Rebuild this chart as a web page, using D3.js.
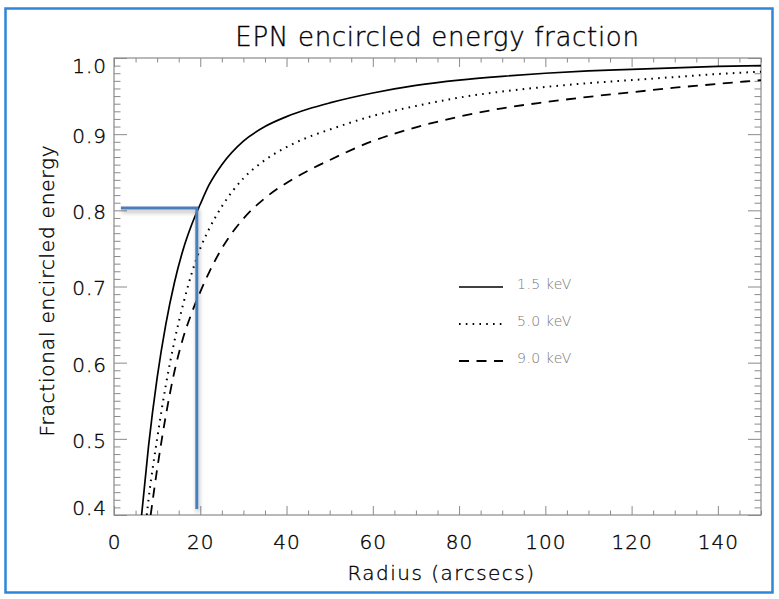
<!DOCTYPE html>
<html><head><meta charset="utf-8">
<script src="https://cdn.jsdelivr.net/npm/d3@7"></script>
<style>body{margin:0;background:#fff}</style>
</head><body>
<svg id="chart" width="779" height="599"></svg>
<script>
// ---- data ----
const radius15 = [6.4, 8, 10, 12, 14, 16, 18, 20, 22, 25, 30, 35, 40, 45, 50, 60, 70, 80, 90, 100, 110, 120, 130, 140, 150];
const ee15     = [0.400, 0.490, 0.580, 0.650, 0.705, 0.748, 0.781, 0.808, 0.833, 0.860, 0.891, 0.910, 0.923, 0.933, 0.941, 0.954, 0.964, 0.971, 0.976, 0.980, 0.983, 0.985, 0.987, 0.989, 0.990];
const radius50 = [7.6, 8, 10, 12, 14, 16, 18, 20, 22, 25, 30, 35, 40, 45, 50, 60, 70, 80, 90, 100, 110, 120, 130, 140, 150];
const ee50     = [0.400, 0.420, 0.500, 0.570, 0.628, 0.676, 0.717, 0.750, 0.775, 0.805, 0.842, 0.866, 0.883, 0.896, 0.906, 0.924, 0.937, 0.948, 0.956, 0.962, 0.967, 0.971, 0.975, 0.979, 0.982];
const radius90 = [8.5, 10, 12, 14, 16, 18, 20, 22, 25, 30, 35, 40, 45, 50, 60, 70, 80, 90, 100, 110, 120, 130, 140, 150];
const ee90     = [0.400, 0.460, 0.530, 0.588, 0.632, 0.665, 0.693, 0.718, 0.750, 0.789, 0.816, 0.836, 0.852, 0.866, 0.891, 0.909, 0.923, 0.934, 0.942, 0.949, 0.955, 0.961, 0.966, 0.971];
const legendLabels = ["1.5 keV", "5.0 keV", "9.0 keV"];
const xMajorTicks = [0, 20, 40, 60, 80, 100, 120, 140];
const yMajorTicks = [0.4, 0.5, 0.6, 0.7, 0.8, 0.9, 1.0];
const xMinorStep = 5;
const yMinorStep = 0.01;
// marker (blue guide lines): 80% level at r ~ 19.2"
const markerR = [1.6, 19.2];
const markerEE = [0.408, 0.803];
const titleText = "EPN encircled energy fraction";
const xTitle = "Radius (arcsecs)";
const yTitle = "Fractional encircled energy";

// ---- layout ----
const svg = d3.select("#chart");
const m = {left: 114, right: 761, top: 58, bottom: 515};
const x = d3.scaleLinear().domain([0, 150]).range([m.left, m.right]);
const y = d3.scaleLinear().domain([0.4, 1.0]).range([m.bottom, m.top]);
const font = "'DejaVu Sans', sans-serif";
const axisColor = "#8a8a8a";
const textColor = "#000";

function textStyle(sel, size, ls) {
  sel.attr("font-family", font).attr("font-size", size).attr("font-weight", 200)
    .attr("letter-spacing", ls).attr("fill", textColor)
    .attr("stroke", textColor).attr("stroke-width", 0.35);
}

// outer frame
svg.append("rect").attr("x", 5.5).attr("y", 8.5).attr("width", 767).attr("height", 584)
  .attr("fill", "none").attr("stroke", "#2e86d9").attr("stroke-width", 2.5);

// drop-shadow for marker
const defs = svg.append("defs");
const f = defs.append("filter").attr("id", "shadow").attr("x", "-20%").attr("y", "-50%").attr("width", "140%").attr("height", "200%");
f.append("feDropShadow").attr("dx", 1).attr("dy", 3).attr("stdDeviation", 2).attr("flood-color", "#000").attr("flood-opacity", 0.3);
defs.append("clipPath").attr("id", "clip").append("rect")
  .attr("x", m.left).attr("y", m.top).attr("width", m.right - m.left).attr("height", m.bottom - m.top);

// title
svg.append("text").attr("x", (m.left + m.right) / 2).attr("y", 46)
  .attr("text-anchor", "middle").call(textStyle, 26, 0.7).text(titleText);

function clean(g) {
  g.select(".domain").remove();
  g.selectAll("line").attr("stroke", axisColor).attr("stroke-width", 1);
}
const xMinor = d3.range(0, 150.001, xMinorStep).filter(v => v % 20 !== 0);
const yMinor = d3.range(40, 100.001, yMinorStep * 100).filter(v => Math.round(v) % 10 !== 0).map(v => v / 100);

// bottom axis
const gb = svg.append("g").attr("transform", `translate(0,${m.bottom})`)
  .call(d3.axisBottom(x).tickValues(xMajorTicks).tickSize(-9).tickPadding(20).tickFormat(d3.format("d")));
clean(gb);
gb.selectAll("text").call(textStyle, 20, 1);
svg.append("g").attr("transform", `translate(0,${m.bottom})`)
  .call(d3.axisBottom(x).tickValues(xMinor).tickSize(-4.5).tickFormat("")).call(clean);
// top axis
svg.append("g").attr("transform", `translate(0,${m.top})`)
  .call(d3.axisTop(x).tickValues(xMajorTicks).tickSize(-9).tickFormat("")).call(clean);
svg.append("g").attr("transform", `translate(0,${m.top})`)
  .call(d3.axisTop(x).tickValues(xMinor).tickSize(-4.5).tickFormat("")).call(clean);

// left axis
const gl = svg.append("g").attr("transform", `translate(${m.left},0)`)
  .call(d3.axisLeft(y).tickValues(yMajorTicks).tickSize(-13).tickPadding(7).tickFormat(d3.format(".1f")));
clean(gl);
gl.selectAll("text").call(textStyle, 20, 1)
  .attr("transform", d => `translate(0,${d >= 0.999 ? 8 : d <= 0.401 ? -7 : 2})`);
svg.append("g").attr("transform", `translate(${m.left},0)`)
  .call(d3.axisLeft(y).tickValues(yMinor).tickSize(-6.5).tickFormat("")).call(clean);
// right axis
svg.append("g").attr("transform", `translate(${m.right},0)`)
  .call(d3.axisRight(y).tickValues(yMajorTicks).tickSize(-13).tickFormat("")).call(clean);
svg.append("g").attr("transform", `translate(${m.right},0)`)
  .call(d3.axisRight(y).tickValues(yMinor).tickSize(-6.5).tickFormat("")).call(clean);

// plot frame
svg.append("rect").attr("x", m.left).attr("y", m.top).attr("width", m.right - m.left).attr("height", m.bottom - m.top)
  .attr("fill", "none").attr("stroke", axisColor).attr("stroke-width", 1.2);

// axis titles
svg.append("text").attr("x", (m.left + m.right) / 2 + 4).attr("y", 580)
  .attr("text-anchor", "middle").call(textStyle, 20, 1.5).text(xTitle);
svg.append("text").attr("transform", `translate(54,${(m.top + m.bottom) / 2 + 4}) rotate(-90)`)
  .attr("text-anchor", "middle").call(textStyle, 20, 0.8).text(yTitle);

// curves
const series = [
  {r: radius15, v: ee15, dash: null, w: 1.7},
  {r: radius50, v: ee50, dash: "1.6,5.2", w: 2},
  {r: radius90, v: ee90, dash: "10,7.5", w: 1.8}
];
const line = d3.line().x(d => x(d[0])).y(d => y(d[1])).curve(d3.curveMonotoneX);
const gc = svg.append("g").attr("clip-path", "url(#clip)");
series.forEach(s => {
  gc.append("path").datum(d3.zip(s.r, s.v)).attr("d", line)
    .attr("fill", "none").attr("stroke", "#000").attr("stroke-width", s.w)
    .attr("stroke-dasharray", s.dash);
});

// blue marker lines
const gm = svg.append("g").attr("filter", "url(#shadow)");
gm.append("path")
  .attr("d", d3.line()([[x(markerR[0]), y(markerEE[1])], [x(markerR[1]), y(markerEE[1])], [x(markerR[1]), y(markerEE[0])]]))
  .attr("fill", "none").attr("stroke", "#4a7ebd").attr("stroke-width", 3).attr("stroke-linejoin", "miter");

// legend
const legY = d3.scalePoint().domain(legendLabels).range([287, 361]);
const lg = svg.append("g");
legendLabels.forEach((lab, i) => {
  lg.append("line").attr("x1", 459).attr("x2", 503).attr("y1", legY(lab)).attr("y2", legY(lab))
    .attr("stroke", "#000").attr("stroke-width", series[i].w).attr("stroke-dasharray", series[i].dash);
  lg.append("text").attr("x", 517).attr("y", legY(lab) - 3).attr("dy", "0.35em")
    .attr("font-family", font).attr("font-size", 14).attr("font-weight", 200)
    .attr("letter-spacing", 0.5).attr("fill", "#777").text(lab);
});
</script>
</body></html>
